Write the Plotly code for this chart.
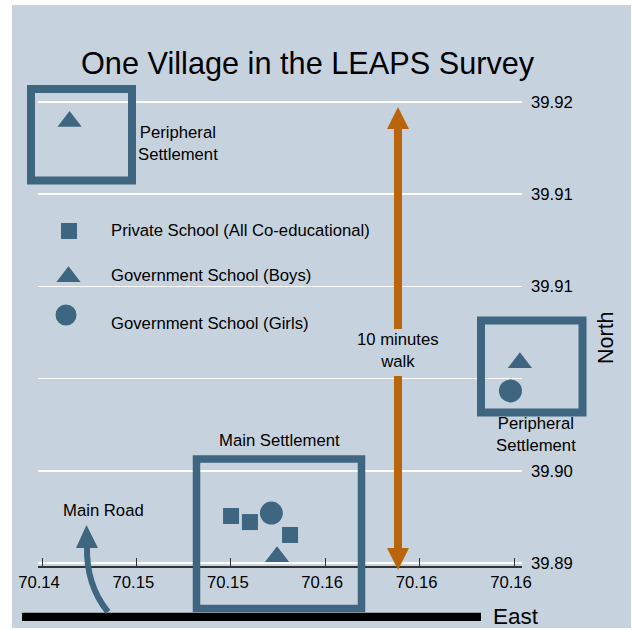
import plotly.graph_objects as go

# ---------------- data (longitude / latitude of schools) ----------------
private_lon = [70.15201, 70.15281, 70.15451]
private_lat = [39.89505, 39.89472, 39.89402]
boys_lon = [70.15396, 70.16425, 70.14517]
boys_lat = [39.89284, 39.90336, 39.91644]
girls_lon = [70.15372, 70.16385]
girls_lat = [39.89521, 39.90183]

x_tickvals = [70.144, 70.148, 70.152, 70.156, 70.160, 70.164]
x_ticktext = ["70.14", "70.15", "70.15", "70.16", "70.16", "70.16"]
y_tickvals = [39.8925, 39.8975, 39.9025, 39.9075, 39.9125, 39.9175]
y_ticktext = ["39.89", "39.90", "", "39.91", "39.91", "39.92"]

legend_labels = ["Private School (All Co-educational)",
                 "Government School (Boys)",
                 "Government School (Girls)"]

# ---------------- styling / layout helpers ----------------
W, H = 632, 630
ML, MR, MT, MB = 38, 110, 95, 64
PW, PH = W - ML - MR, H - MT - MB
BG = "#c6d3df"
MC = "#3e6680"
ORANGE = "#b9650c"
FONT = "Liberation Sans, Arial, sans-serif"
FS = 16.7
TXT = "#000000"


def px(x):
    return (x - ML) / PW


def py(y):
    return (H - MB - y) / PH


def dx(x):
    return 70.144 + (x - 42) * 0.004 / 94.4


def dy(y):
    return 39.8925 + (563 - y) * 0.005 / 92.2


fig = go.Figure()

mk = dict(color=MC, line=dict(width=0))
fig.add_trace(go.Scatter(x=private_lon, y=private_lat, mode="markers",
                         marker=dict(symbol="square", size=16, **mk),
                         cliponaxis=False, showlegend=False, hoverinfo="skip"))
fig.add_trace(go.Scatter(x=boys_lon, y=boys_lat, mode="markers",
                         marker=dict(symbol="triangle-up", size=21, **mk),
                         cliponaxis=False, showlegend=False, hoverinfo="skip"))
fig.add_trace(go.Scatter(x=girls_lon, y=girls_lat, mode="markers",
                         marker=dict(symbol="circle", size=23, **mk),
                         cliponaxis=False, showlegend=False, hoverinfo="skip"))

# custom legend (symbols + labels)
leg_sym = ["square", "triangle-up", "circle"]
leg_size = [16, 21, 21]
leg_mx = [69, 68.5, 66]
leg_my = [231, 276.7, 315]
leg_ty = [230, 275, 323]
for s, sz, mx_, my_ in zip(leg_sym, leg_size, leg_mx, leg_my):
    fig.add_trace(go.Scatter(x=[dx(mx_)], y=[dy(my_)], mode="markers",
                             marker=dict(symbol=s, size=sz, **mk),
                             cliponaxis=False, showlegend=False, hoverinfo="skip"))

ann = []
for lab, ty in zip(legend_labels, leg_ty):
    ann.append(dict(x=px(108.5), y=py(ty), xref="paper", yref="paper", text=lab,
                    showarrow=False, xanchor="left", yanchor="middle",
                    font=dict(size=FS, color=TXT, family=FONT)))


def text(x, y, t, size=FS, anchor="center", angle=0):
    ann.append(dict(x=px(x), y=py(y), xref="paper", yref="paper", text=t,
                    showarrow=False, xanchor=anchor, yanchor="middle",
                    textangle=angle,
                    font=dict(size=size, color=TXT, family=FONT)))


text(308, 63, "One Village in the LEAPS Survey", size=30.7)
text(177.5, 143.5, "Peripheral<br>Settlement")
text(536, 434.5, "Peripheral<br>Settlement")
text(279, 440, "Main Settlement")
text(103.5, 510, "Main Road")
text(398, 350.5, "10 minutes<br>walk")
text(606, 338, "North", size=21.5, angle=-90)
text(491, 616, "East", size=22.5, anchor="left")

shapes = []
# figure background panel
shapes.append(dict(type="rect", xref="paper", yref="paper", x0=px(12), x1=px(631),
                   y0=py(628), y1=py(5), fillcolor=BG, line=dict(width=0), layer="below"))
# road line
shapes.append(dict(type="rect", xref="paper", yref="paper", x0=px(22), x1=px(481),
                   y0=py(621), y1=py(612.7), fillcolor="black", line=dict(width=0),
                   layer="above"))


def box(x0, y0, x1, y1, w):
    shapes.append(dict(type="rect", xref="paper", yref="paper", x0=px(x0), x1=px(x1),
                       y0=py(y1), y1=py(y0), line=dict(color=MC, width=w),
                       fillcolor="rgba(0,0,0,0)", layer="above"))


box(31, 89, 132, 180.5, 8)
box(196.5, 459, 361.5, 608.5, 7.5)
box(481, 320.5, 582.5, 412.5, 8)


def seg(x0, y0, x1, y1, color, w):
    shapes.append(dict(type="line", xref="paper", yref="paper", x0=px(x0), y0=py(y0),
                       x1=px(x1), y1=py(y1), line=dict(color=color, width=w),
                       layer="above"))


def tri(pts, color):
    p = "M " + " L ".join(f"{px(a):.5f},{py(b):.5f}" for a, b in pts) + " Z"
    shapes.append(dict(type="path", xref="paper", yref="paper", path=p,
                       fillcolor=color, line=dict(width=0), layer="above"))


# orange 10-minute walk arrow
seg(398, 128, 398, 329, ORANGE, 8)
seg(398, 376, 398, 549, ORANGE, 8)
tri([(387, 129), (409, 129), (398, 107)], ORANGE)
tri([(387, 548), (409, 548), (398, 570)], ORANGE)

# main road curved arrow
curve = (f"M {px(108):.5f},{py(612):.5f} Q {px(86):.5f},{py(585):.5f} "
         f"{px(87):.5f},{py(546):.5f}")
shapes.append(dict(type="path", xref="paper", yref="paper", path=curve,
                   line=dict(color=MC, width=6), layer="above"))
tri([(76, 548), (98, 548), (86.5, 525)], MC)

fig.update_layout(
    width=W, height=H,
    margin=dict(l=ML, r=MR, t=MT, b=MB, pad=0),
    paper_bgcolor="white",
    plot_bgcolor="rgba(0,0,0,0)",
    showlegend=False,
    annotations=ann,
    shapes=shapes,
    font=dict(family=FONT, color=TXT),
    xaxis=dict(range=[dx(ML), dx(W - MR)], tickvals=x_tickvals, ticktext=x_ticktext,
               showgrid=False, zeroline=False, showline=True, linecolor="#333",
               linewidth=2, ticks="inside", ticklen=8, tickwidth=1, tickcolor="#333",
               ticklabelshift=-3,
               tickfont=dict(size=FS, color=TXT, family=FONT)),
    yaxis=dict(range=[dy(H - MB), dy(MT)], tickvals=y_tickvals, ticktext=y_ticktext,
               side="right", showgrid=True, gridcolor="white", gridwidth=1.5,
               zeroline=False, showline=False, ticks="",
               ticklabelstandoff=8,
               tickfont=dict(size=FS, color=TXT, family=FONT)),
)

fig.write_html("out.html", config={"displayModeBar": False, "staticPlot": True},
               post_script="document.body.style.margin='0px';document.body.style.overflow='hidden';")
